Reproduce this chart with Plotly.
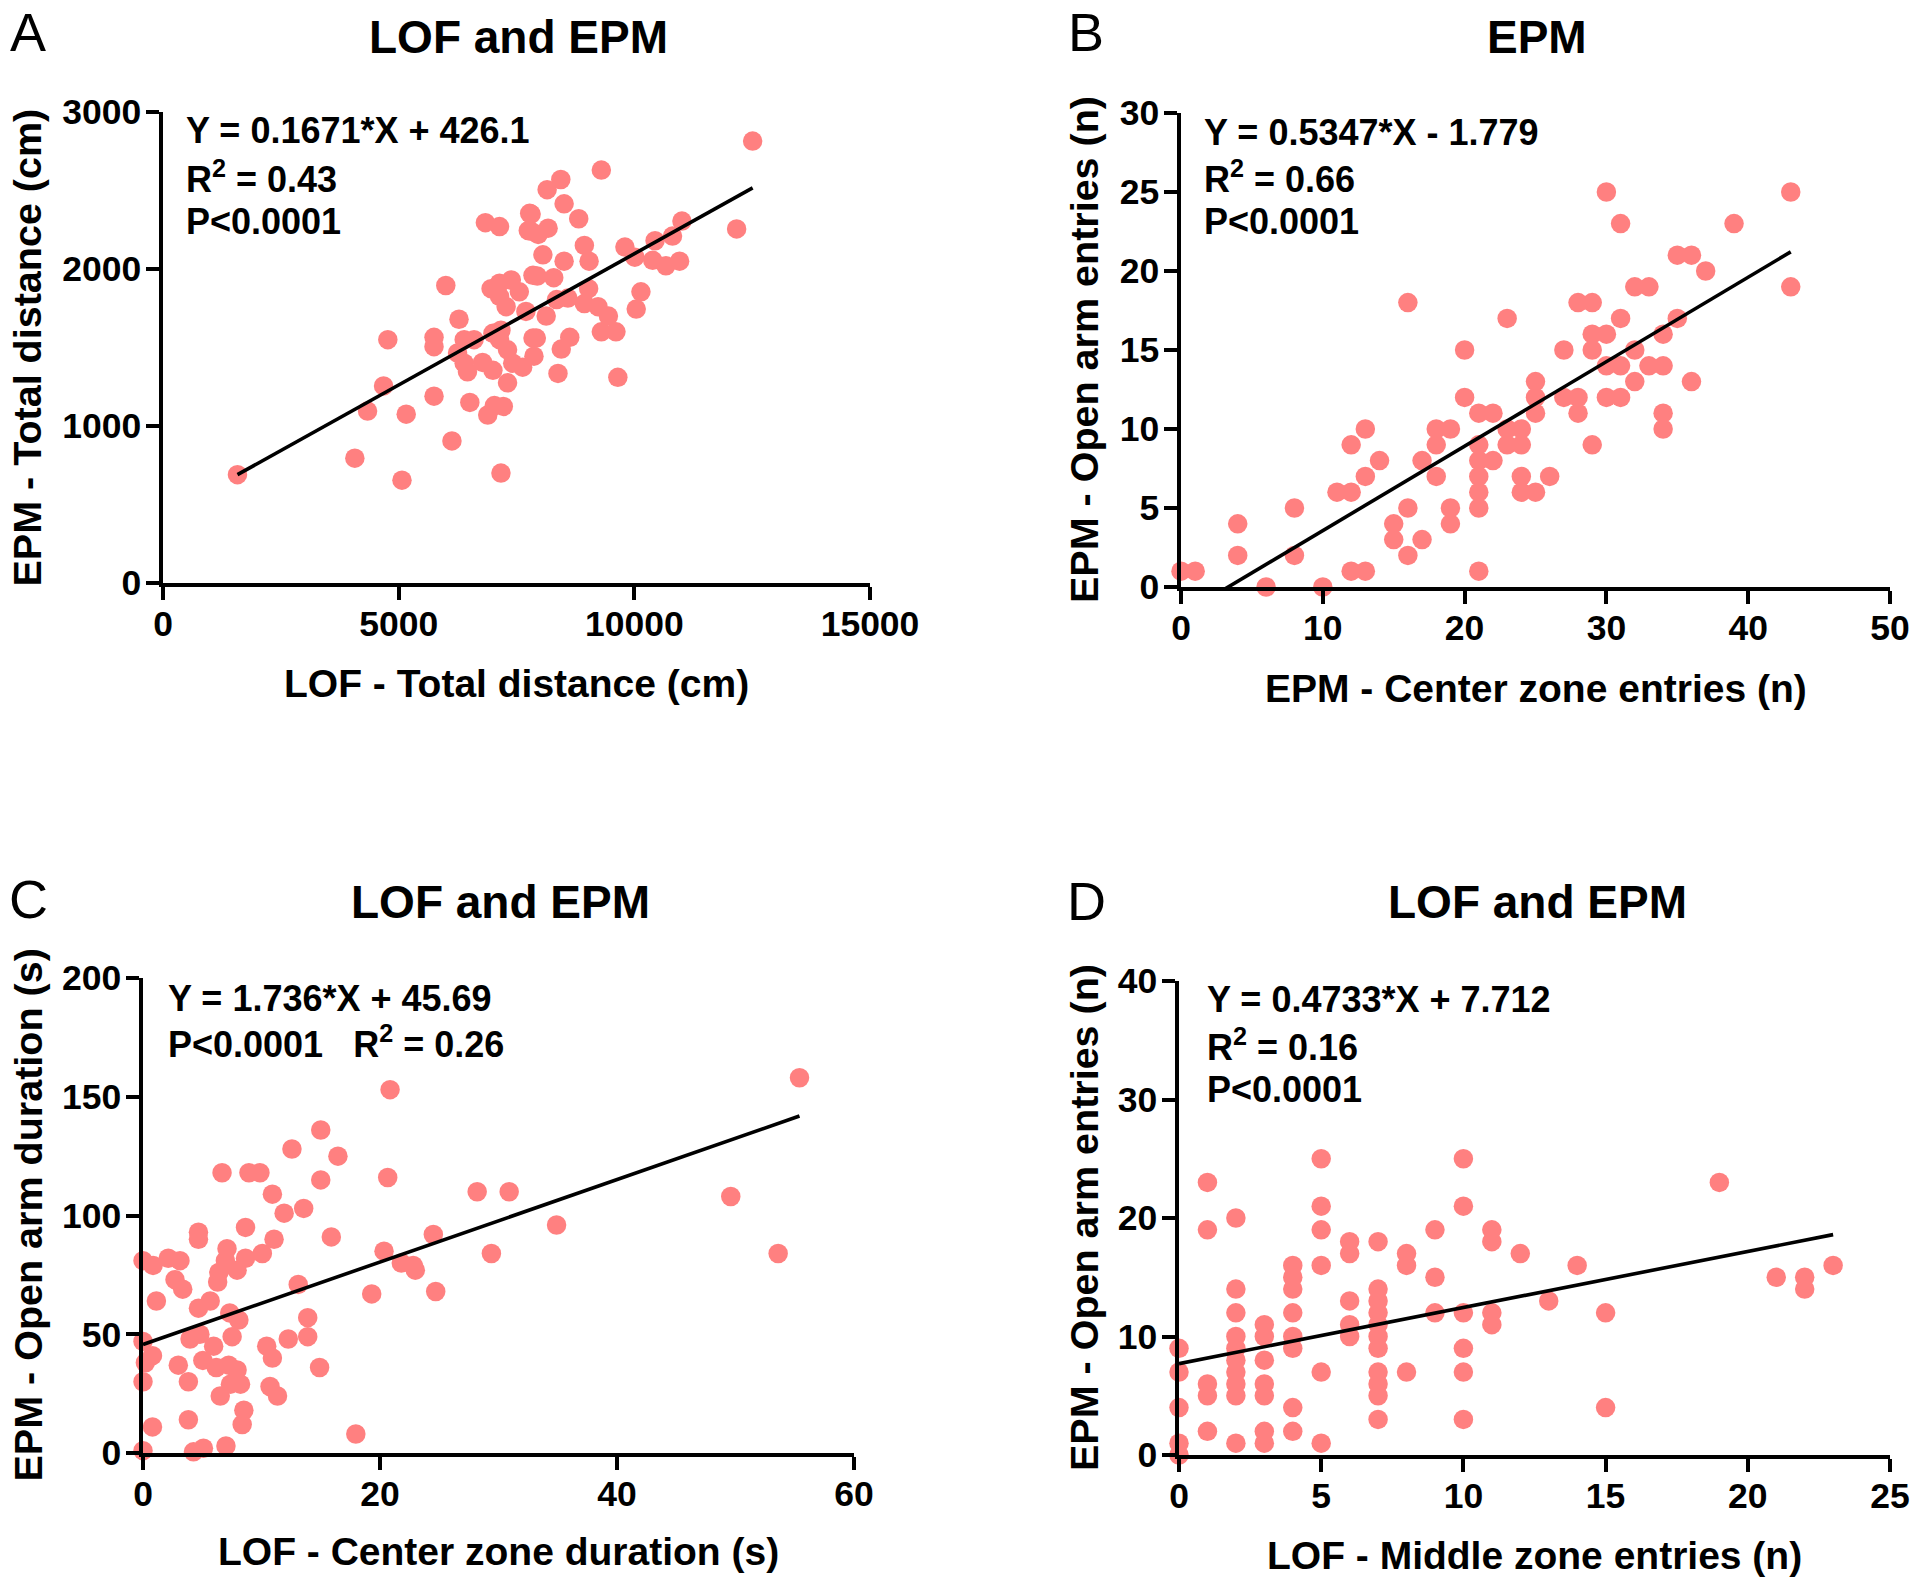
import numpy as np
import plotly.graph_objects as go

W, H = 1920, 1585

# ---------------- Panel A: LOF total distance vs EPM total distance
ax = [1580, 4070, 5070, 4340, 4680, 5160, 4770, 5750, 6130, 7170,
      6510, 6890, 7030, 6000, 6280, 5750, 5750, 6390, 6600, 6250,
      6390, 6460, 6780, 7000, 7000, 7170, 7140, 7310, 7310, 7420,
      7630, 6960, 7140, 7390, 7140, 7280, 7560, 7700, 6840, 7140,
      7810, 7810, 7850, 7850, 12510, 12170, 11010, 10810, 10440, 10960,
      10670, 10390, 10010, 9800, 10140, 10040, 9650, 9610, 9300, 9450,
      9230, 9030, 8940, 8630, 8450, 8380, 8130, 8350, 8590, 7920,
      7870, 7940, 8290, 8060, 8510, 8940, 9040, 8820, 8510, 8440,
      8150, 9300, 7780, 7750, 7960, 8170, 7220]
ay = [690, 795, 655, 1095, 1255, 1075, 1550, 1190, 905, 700,
      1150, 1070, 1130, 1895, 1680, 1565, 1505, 1550, 1550, 1465,
      1400, 1345, 1405, 1355, 1590, 1610, 1550, 1485, 1275, 1400,
      1375, 1875, 1910, 1930, 1825, 1760, 1855, 1730, 2295, 2270,
      2350, 2240, 1960, 1560, 2815, 2255, 2305, 2210, 2180, 2050,
      2020, 2055, 2075, 2140, 1855, 1745, 1310, 1600, 1600, 1700,
      1760, 1875, 1780, 1565, 1490, 1335, 1700, 1805, 1815, 1560,
      1445, 1955, 1945, 2090, 2050, 2150, 2050, 2320, 2415, 2570,
      2505, 2630, 2355, 2245, 2220, 2260, 1125]
a_fit = [0.1671, 426.1]

# ---------------- Panel B: EPM center zone entries vs open arm entries
bx = [0, 1, 4, 4, 6, 8, 8, 10, 12, 13,
      11, 12, 12, 13, 13, 14, 15, 15, 16, 16,
      16, 17, 17, 18, 18, 18, 19, 19, 19, 20,
      20, 21, 21, 21, 21, 21, 21, 21, 22, 22,
      23, 23, 23, 24, 24, 24, 24, 25, 25, 25,
      25, 26, 27, 27, 28, 28, 28, 29, 29, 29,
      29, 30, 30, 30, 30, 31, 31, 31, 31, 32,
      32, 32, 33, 33, 34, 34, 34, 34, 35, 35,
      36, 36, 37, 39, 43, 43]
by = [1, 1, 4, 2, 0, 5, 2, 0, 1, 1,
      6, 6, 9, 10, 7, 8, 4, 3, 5, 2,
      18, 8, 3, 10, 9, 7, 10, 5, 4, 15,
      12, 11, 9, 8, 7, 6, 5, 1, 11, 8,
      17, 10, 9, 10, 9, 7, 6, 13, 12, 11,
      6, 7, 15, 12, 18, 12, 11, 18, 16, 15,
      9, 25, 16, 14, 12, 23, 17, 14, 12, 19,
      15, 13, 19, 14, 16, 14, 11, 10, 21, 17,
      21, 13, 20, 23, 25, 19]
b_fit = [0.5347, -1.779]

# ---------------- Panel C: LOF center zone duration vs EPM open arm duration
cx = [0, 0.8, 0, 0.2, 0.8, 0, 0, 0.85, 1.13, 2.13,
      3.12, 2.7, 3.35, 2.98, 3.83, 3.83, 4.26, 5.1, 3.97, 4.8,
      5.05, 4.68, 5.67, 4.68, 4.68, 5.96, 6.18, 6.52, 7.0, 6.67,
      6.3, 6.4, 7.09, 6.95, 7.94, 8.65, 7.32, 8.09, 7.52, 7.23,
      7.94, 7.38, 8.23, 8.51, 8.37, 8.65, 8.94, 9.87, 10.07, 11.06,
      10.92, 11.91, 12.57, 13.56, 15.0, 15.0, 16.45, 15.89, 10.44, 10.92,
      10.72, 11.35, 12.26, 13.1, 13.9, 13.9, 14.9, 17.96, 19.3, 20.34,
      20.65, 20.85, 21.8, 22.98, 22.8, 24.5, 24.7, 28.2, 29.4, 55.4,
      49.6, 53.6, 30.9, 34.9]
cy = [1, 11, 30, 38, 41, 47, 81, 79, 64, 82,
      81, 73, 69, 37, 30, 14, 0.5, 2, 48, 50,
      39, 61, 64, 90, 93, 45, 36, 24, 3, 118,
      72, 76, 86, 81, 77, 82, 59, 56, 49, 37,
      35, 29, 29, 18, 12, 95, 118, 118, 84, 90,
      109, 101, 128, 103, 136, 115, 125, 91, 45, 40,
      28, 24, 48, 71, 57, 49, 36, 8, 67, 85,
      116, 153, 80, 77, 79, 92, 68, 110, 84, 158,
      108, 84, 110, 96]
c_fit = [1.736, 45.69]

# ---------------- Panel D: LOF middle zone entries vs EPM open arm entries
dx = [0, 0, 0, 0, 0, 1, 1, 1, 1, 1,
      2, 2, 2, 2, 2, 2, 2, 2, 2, 2,
      3, 3, 3, 3, 3, 3, 3, 4, 4, 4,
      4, 4, 4, 4, 4, 5, 5, 5, 5, 5,
      5, 6, 6, 6, 6, 6, 7, 7, 7, 7,
      7, 7, 7, 7, 7, 7, 7, 8, 8, 8,
      9, 9, 9, 10, 10, 10, 10, 10, 10, 11,
      11, 11, 11, 12, 13, 14, 15, 15, 19, 21,
      22, 22, 23]
dy = [0, 1, 4, 7, 9, 23, 19, 6, 5, 2,
      20, 14, 12, 10, 9, 8, 7, 6, 5, 1,
      11, 10, 8, 6, 5, 2, 1, 16, 15, 14,
      12, 10, 9, 4, 2, 25, 21, 19, 16, 7,
      1, 18, 17, 13, 11, 10, 18, 14, 13, 12,
      11, 10, 9, 7, 6, 5, 3, 17, 16, 7,
      19, 15, 12, 25, 21, 12, 9, 7, 3, 19,
      18, 12, 11, 17, 13, 16, 12, 4, 23, 15,
      15, 14, 16]
d_fit = [0.4733, 7.712]

titles = ["LOF and EPM", "EPM", "LOF and EPM", "LOF and EPM"]
letters = ["A", "B", "C", "D"]
xtitles = ["LOF - Total distance (cm)", "EPM - Center zone entries (n)",
           "LOF - Center zone duration (s)", "LOF - Middle zone entries (n)"]
ytitles = ["EPM - Total distance (cm)", "EPM - Open arm entries (n)",
           "EPM - Open arm duration (s)", "EPM - Open arm entries (n)"]
eq_lines = [
    ["Y = 0.1671*X + 426.1", "R<sup>2</sup> = 0.43", "P<0.0001"],
    ["Y = 0.5347*X - 1.779", "R<sup>2</sup> = 0.66", "P<0.0001"],
    ["Y = 1.736*X + 45.69", "P<0.0001   R<sup>2</sup> = 0.26"],
    ["Y = 0.4733*X + 7.712", "R<sup>2</sup> = 0.16", "P<0.0001"],
]
xranges = [[0, 15000], [0, 50], [0, 60], [0, 25]]
yranges = [[0, 3000], [0, 30], [0, 200], [0, 40]]
xdticks = [5000, 10, 20, 5]
ydticks = [1000, 5, 50, 10]

# ---------------- layout geometry (page pixels)
boxes = [(163, 870, 112, 583), (1181, 1890, 113, 587),
         (143, 854, 978, 1453), (1179, 1890, 981, 1455)]
title_pos = [(518, 37), (1537, 37), (500, 902), (1537, 902)]
letter_pos = [(28, 1), (1086, 1), (28, 868), (1086, 870)]   # top edge of the letter boxes
xtitle_y = [683, 688, 1551, 1555]
ytitle_x = [27, 1084, 27, 1084]
eq_pos = [(184, [131, 177, 221]), (1202, [132, 177, 221]),
          (166, [998, 1042]), (1205, [1000, 1045, 1089])]

PT = "#FF8080"
FONT = "Liberation Sans, Arial, sans-serif"

def px(x):
    return x / W

def py(y):
    return 1 - y / H

fig = go.Figure()
data = [(ax, ay, a_fit), (bx, by, b_fit), (cx, cy, c_fit), (dx, dy, d_fit)]
layout = dict(width=W, height=H, margin=dict(l=0, r=0, t=0, b=0, pad=0, autoexpand=False),
              paper_bgcolor="white", plot_bgcolor="white", showlegend=False,
              font=dict(family=FONT, color="black"))
annotations = []

for i, (xs, ys, fit) in enumerate(data):
    n = "" if i == 0 else str(i + 1)
    xa, ya = "x" + n, "y" + n
    xs_arr = np.array(xs, dtype=float)
    lx = np.array([xs_arr.min(), xs_arr.max()])
    ly = fit[0] * lx + fit[1]
    fig.add_trace(go.Scatter(x=xs, y=ys, mode="markers", xaxis=xa, yaxis=ya,
                             marker=dict(size=19.5, color=PT, line=dict(width=0)),
                             cliponaxis=False, hoverinfo="x+y"))
    fig.add_trace(go.Scatter(x=lx, y=ly, mode="lines", xaxis=xa, yaxis=ya,
                             line=dict(color="black", width=3.6),
                             cliponaxis=True, hoverinfo="skip"))
    l, r, t, b = boxes[i]
    axis_common = dict(showline=True, linewidth=3.5, linecolor="black",
                       ticks="outside", ticklen=13, tickwidth=3.5, tickcolor="black",
                       showgrid=False, zeroline=False, tickformat="d", automargin=False,
                       tickfont=dict(family=FONT, size=35.5, color="black", weight="bold"),
                       fixedrange=True)
    layout["xaxis" + n] = dict(domain=[px(l), px(r)], range=xranges[i], anchor=ya,
                               tick0=0, dtick=xdticks[i], **axis_common)
    layout["yaxis" + n] = dict(domain=[py(b), py(t)], range=yranges[i], anchor=xa,
                               tick0=0, dtick=ydticks[i], **axis_common)
    tx, ty = title_pos[i]
    annotations.append(dict(text=titles[i], x=px(tx), y=py(ty), xref="paper", yref="paper",
                            showarrow=False, xanchor="center", yanchor="middle",
                            font=dict(family=FONT, size=46, color="black", weight="bold")))
    lx_, ly_ = letter_pos[i]
    annotations.append(dict(text=letters[i], x=px(lx_), y=py(ly_), xref="paper", yref="paper",
                            showarrow=False, xanchor="center", yanchor="top", borderpad=0,
                            font=dict(family=FONT, size=54, color="black")))
    annotations.append(dict(text=xtitles[i], x=px((l + r) / 2), y=py(xtitle_y[i]),
                            xref="paper", yref="paper", showarrow=False,
                            xanchor="center", yanchor="middle",
                            font=dict(family=FONT, size=39, color="black", weight="bold")))
    annotations.append(dict(text=ytitles[i], x=px(ytitle_x[i]), y=py((t + b) / 2),
                            xref="paper", yref="paper", showarrow=False, textangle=-90,
                            xanchor="center", yanchor="middle",
                            font=dict(family=FONT, size=39.5, color="black", weight="bold")))
    ex, eys = eq_pos[i]
    for line_text, ey in zip(eq_lines[i], eys):
        annotations.append(dict(text=line_text, x=px(ex), y=py(ey), xref="paper", yref="paper",
                                showarrow=False, xanchor="left", yanchor="middle",
                                font=dict(family=FONT, size=36, color="black", weight="bold")))

layout["annotations"] = annotations
fig.update_layout(**layout)

# pull tick labels a little closer to the axes (as in the reference), if supported
try:
    fig.update_xaxes(ticklabelstandoff=-6)
    fig.update_yaxes(ticklabelstandoff=-2)
except Exception:
    pass

# page setup: no body margin, no scrollbars
post = """
document.documentElement.style.margin='0';
document.body.style.margin='0';
document.documentElement.style.overflow='hidden';
document.body.style.overflow='hidden';
"""
fig.write_html("out.html", post_script=post, config={"displayModeBar": False})
